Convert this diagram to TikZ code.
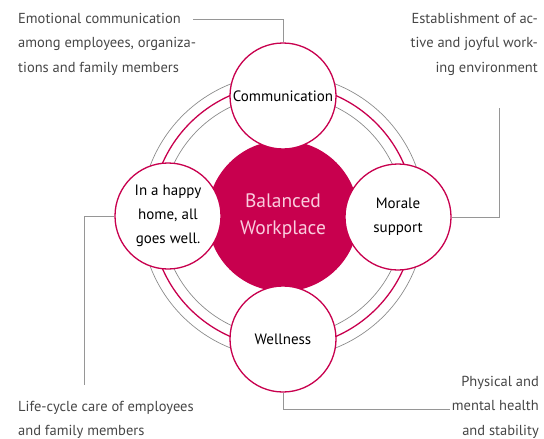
\documentclass[tikz,border=0pt]{standalone}
\usepackage{fontspec}
\setmainfont{PT Sans}
\definecolor{mag}{RGB}{200,0,78}
\definecolor{ring}{RGB}{140,140,140}
\definecolor{conn}{RGB}{150,150,150}
\definecolor{note}{RGB}{70,70,70}
\definecolor{pinktxt}{RGB}{250,205,222}
\begin{document}
\begin{tikzpicture}[x=1pt,y=-1pt,
  sat/.style={circle,draw=mag,line width=1.3pt,fill=white,minimum size=106pt,inner sep=0pt,align=center,
     font=\fontsize{15}{24}\selectfont,text=black},
  hub/.style={circle,fill=mag,minimum size=151pt,inner sep=0pt,align=center,
     font=\fontsize{19.5}{27}\selectfont,text=pinktxt},
  notel/.style={inner sep=0pt,align=left,text=note,font=\fontsize{14.5}{24.5}\selectfont},
  noter/.style={inner sep=0pt,align=right,text=note,font=\fontsize{14.5}{24.5}\selectfont},
  grayring/.style={draw=ring,line width=0.7pt},
  magring/.style={draw=mag,line width=1.3pt},
  link/.style={draw=conn,line width=0.8pt}]
\useasboundingbox (0,0) rectangle (544,439);
\coordinate (O) at (283,216);
\draw[grayring] (O) circle (142);
\draw[magring] (O) circle (131.5);
\draw[grayring] (O) circle (121);
\node[hub] (hub) at (O) {Balanced\\Workplace};
\node[sat] (top) at (283,96) {Communication};
\node[sat] (left) at (168,216) {In a happy\\home, all\\goes well.};
\node[sat] (right) at (398,217) {Morale\\support};
\node[sat] (bot) at (283,339) {Wellness};
% notes
\node[notel,anchor=north west] (n1) at (18,13) {Emotional communication\\among employees, organiza-\\tions and family members};
\node[noter,anchor=north east] (n2) at (538,13) {Establishment of ac-\\tive and joyful work-\\ing environment};
\node[notel,anchor=north west] (n3) at (18,401) {Life-cycle care of employees\\and family members};
\node[noter,anchor=north east] (n4) at (539,376) {Physical and\\mental health\\and stability};
% connectors
\coordinate (c1) at (193,19);
\coordinate (c2) at (499,108);
\coordinate (c3) at (84,385);
\coordinate (c4) at (450,409);
\draw[link] (c1) -| (top.north);
\draw[link] (c2) |- (right.east);
\draw[link] (left.west) -| (c3);
\draw[link] (bot.south) |- (c4);
\end{tikzpicture}
\end{document}
